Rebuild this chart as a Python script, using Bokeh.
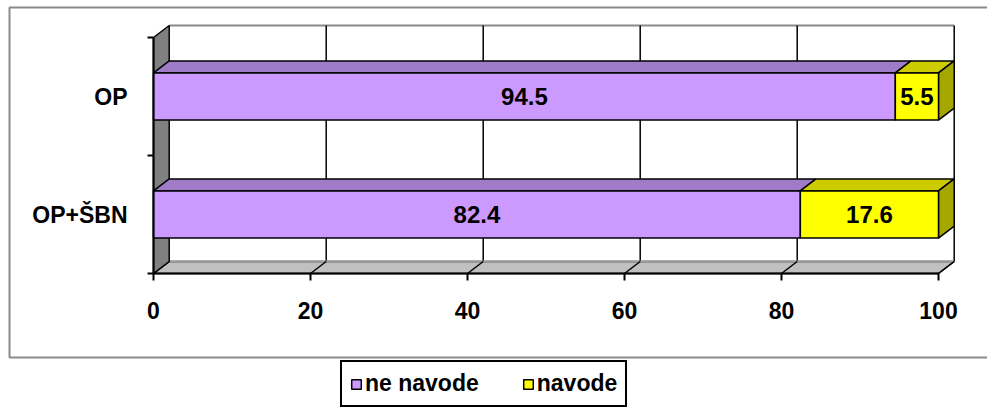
from bokeh.plotting import figure
from bokeh.models import (ColumnDataSource, Range1d, LinearAxis, FixedTicker,
                          Legend, LegendItem)
from bokeh.core.properties import value
from bokeh.embed import file_html
from bokeh.resources import INLINE

# --- data -------------------------------------------------------------
categories = ["OP+ŠBN", "OP"]          # bottom to top
ne_navode = [82.4, 94.5]
navode = [17.6, 5.5]
series_names = ["ne navode", "navode"]
x_ticks = [0, 20, 40, 60, 80, 100]

# --- styling ----------------------------------------------------------
FONT = "Liberation Sans"
front_colors = ["#CC99FF", "#FFFF00"]
top_colors = ["#A07BC8", "#CCCC00"]
side_colors = ["#A3A300", "#A6A600"]

W, H = 987, 408
ZERO_PX, FULL_PX = 153, 938          # screen x of value 0 and 100
FLOOR_PX, CEIL_PX = 273, 37          # screen y of category-axis ends
ncat = len(categories)
x_scale = (FULL_PX - ZERO_PX) / 100.0
y_scale = (FLOOR_PX - CEIL_PX) / ncat
DX = 15.7 / x_scale                  # 3-D depth offset (x)
DY = 12.0 / y_scale                  # 3-D depth offset (y)
BAR_H = 0.4


def sx(px):
    return (px - ZERO_PX) / x_scale


def sy(px):
    return (FLOOR_PX - px) / y_scale


p = figure(width=W, height=H, output_backend="svg", toolbar_location=None,
           x_range=Range1d(sx(0), sx(W)), y_range=Range1d(sy(H), sy(0)),
           x_axis_location=None, y_axis_location=None, min_border=0)
p.outline_line_color = None
p.background_fill_color = "white"
p.border_fill_color = "white"
p.grid.visible = False

# chart-area border (its right side runs off the page)
p.quad(left=sx(9), right=sx(W + 10), bottom=sy(357), top=sy(7),
       fill_color=None, line_color="#8a8a8a", line_width=2)

# --- back wall with vertical gridlines --------------------------------
p.quad(left=DX, right=100 + DX, bottom=DY, top=ncat + DY,
       fill_color="white", line_color=None)
p.segment(x0=[DX], y0=[ncat + DY], x1=[100 + DX], y1=[ncat + DY],
          line_color="#8a8a8a", line_width=2)
grid_x = [t + DX for t in x_ticks[1:]]
p.segment(x0=grid_x, y0=[DY] * len(grid_x), x1=grid_x, y1=[ncat + DY] * len(grid_x),
          line_color="black", line_width=1.5)

# --- floor ------------------------------------------------------------
p.patch([0, 100, 100 + DX, DX], [0, 0, DY, DY],
        fill_color="#C0C0C0", line_color="black", line_width=1.5)
p.segment(x0=[DX], y0=[DY], x1=[100 + DX], y1=[DY],
          line_color="#9a9a9a", line_width=2)
p.segment(x0=x_ticks, y0=[0] * len(x_ticks),
          x1=[t + DX for t in x_ticks], y1=[DY] * len(x_ticks),
          line_color="black", line_width=1.5)

# --- left wall --------------------------------------------------------
p.patch([0, DX, DX, 0], [0, DY, ncat + DY, ncat],
        fill_color="#808080", line_color="black", line_width=1.5)

# --- stacked 3-D bars -------------------------------------------------
series = [ne_navode, navode]
centers = [i + 0.5 for i in range(ncat)]
lefts = [0.0] * ncat
front_renderers = []
for k, vals in enumerate(series):
    rights = [l + v for l, v in zip(lefts, vals)]
    bottoms = [c - BAR_H / 2 for c in centers]
    tops = [c + BAR_H / 2 for c in centers]
    # top face
    p.patches(xs=[[l, r, r + DX, l + DX] for l, r in zip(lefts, rights)],
              ys=[[t, t, t + DY, t + DY] for t in tops],
              fill_color=top_colors[k], line_color="black", line_width=1.5)
    # right side face of the outermost segment
    if k == len(series) - 1:
        p.patches(xs=[[r, r + DX, r + DX, r] for r in rights],
                  ys=[[b, b + DY, t + DY, t] for b, t in zip(bottoms, tops)],
                  fill_color=side_colors[k], line_color="black", line_width=1.5)
    src = ColumnDataSource(dict(left=lefts, right=rights, bottom=bottoms, top=tops,
                                xm=[(l + r) / 2 for l, r in zip(lefts, rights)],
                                ym=centers, label=[f"{v:.1f}" for v in vals]))
    r_front = p.quad(left="left", right="right", bottom="bottom", top="top", source=src,
                     fill_color=front_colors[k], line_color="black", line_width=1.5)
    front_renderers.append(r_front)
    p.text(x="xm", y="ym", text="label", source=src,
           text_align="center", text_baseline="middle",
           text_font=value(FONT), text_font_style="bold",
           text_font_size="24px", text_color="black")
    lefts = rights

# --- axes -------------------------------------------------------------
xaxis = LinearAxis(fixed_location=0, bounds=(0, 100),
                   ticker=FixedTicker(ticks=x_ticks),
                   axis_line_width=2, axis_line_color="black",
                   major_tick_in=0, major_tick_out=7, major_tick_line_width=2,
                   minor_tick_in=0, minor_tick_out=0,
                   major_label_standoff=21,
                   major_label_text_font=FONT, major_label_text_font_style="bold",
                   major_label_text_font_size="23px", major_label_text_color="black")
p.add_layout(xaxis, "below")

yaxis = LinearAxis(fixed_location=0, bounds=(0, ncat),
                   ticker=FixedTicker(ticks=centers, minor_ticks=list(range(ncat + 1))),
                   axis_line_width=2, axis_line_color="black",
                   major_tick_in=0, major_tick_out=0,
                   minor_tick_in=0, minor_tick_out=6, minor_tick_line_width=2,
                   minor_tick_line_color="black",
                   major_label_overrides={c: name for c, name in zip(centers, categories)},
                   major_label_standoff=20,
                   major_label_text_font=FONT, major_label_text_font_style="bold",
                   major_label_text_font_size="23px", major_label_text_color="black")
p.add_layout(yaxis, "left")

# --- legend -----------------------------------------------------------
legend = Legend(items=[LegendItem(label=n, renderers=[r])
                       for n, r in zip(series_names, front_renderers)],
                orientation="horizontal", location=(340, 1), margin=0,
                padding=8, spacing=43, glyph_width=12, glyph_height=12,
                label_standoff=3, label_text_font=FONT,
                label_text_font_style="bold", label_text_font_size="23px",
                label_text_color="black",
                border_line_color="black", border_line_width=2, border_line_alpha=1,
                background_fill_color="white", background_fill_alpha=1)
p.add_layout(legend)

open("out.html", "w").write(file_html(p, INLINE))
